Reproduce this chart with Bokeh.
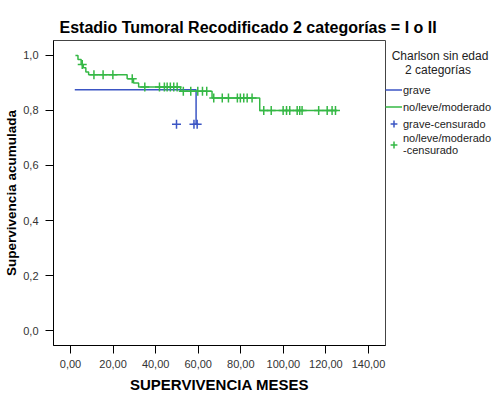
from bokeh.plotting import figure
from bokeh.models import Range1d, FixedTicker, Legend, LegendItem, LinearAxis
from bokeh.embed import file_html
from bokeh.resources import INLINE

# ---- data ----
green_t = [2.3, 3.5, 5.0, 6.0, 7.2, 8.5, 26.6, 29.6, 32.0, 51.7, 66.5, 88.9, 125.3]
green_s = [1.0, 0.985, 0.967, 0.955, 0.94, 0.93, 0.915, 0.90, 0.885, 0.87, 0.845, 0.80, 0.80]

green_cens_t = [5.5, 11.0, 15.3, 19.9, 29.0, 34.9, 41.8, 44.1, 45.4, 46.9, 48.5, 50.1,
                53.0, 56.5, 59.8, 62.0, 64.0,
                67.3, 71.3, 74.2, 78.4, 79.8, 81.4, 83.0, 85.3,
                90.8, 94.3, 99.9, 101.5, 103.0, 106.5, 107.7, 108.8, 116.6, 120.6, 122.9, 124.5]
green_cens_s = [0.967, 0.93, 0.93, 0.93, 0.915, 0.885, 0.885, 0.885, 0.885, 0.885, 0.885, 0.885,
                0.87, 0.87, 0.87, 0.87, 0.87,
                0.845, 0.845, 0.845, 0.845, 0.845, 0.845, 0.845, 0.845,
                0.80, 0.80, 0.80, 0.80, 0.80, 0.80, 0.80, 0.80, 0.80, 0.80, 0.80, 0.80]

blue_t = [2.0, 59.0]
blue_s = [0.875, 0.75]
blue_cens_t = [49.8, 58.0, 59.5]
blue_cens_s = [0.75, 0.75, 0.75]

x_ticks = [0, 20, 40, 60, 80, 100, 120, 140]
x_tick_labels = ["0,00", "20,00", "40,00", "60,00", "80,00", "100,00", "120,00", "140,00"]
y_ticks = [0.0, 0.2, 0.4, 0.6, 0.8, 1.0]
y_tick_labels = ["0,0", "0,2", "0,4", "0,6", "0,8", "1,0"]

title_text = "Estadio Tumoral Recodificado 2 categorías = I o II"
x_label = "SUPERVIVENCIA MESES"
y_label = "Supervivencia acumulada"
legend_title = "\u00a0\u00a0Charlson sin edad\n\u00a0\u00a0\u00a0\u00a0\u00a0\u00a02 categorías"
legend_labels = ["grave", "no/leve/moderado", "grave-censurado", "no/leve/moderado\n-censurado"]

BLUE = "#3b55c4"
GREEN = "#35b845"
FONT = "Liberation Sans"

p = figure(width=498, height=398, frame_width=332, frame_height=305,
           output_backend="svg", toolbar_location=None,
           x_range=Range1d(-8, 148), y_range=Range1d(-0.0545, 1.0545),
           min_border_left=53, min_border_right=113, min_border_top=40, min_border_bottom=53)
p.grid.visible = False
p.background_fill_color = "white"
p.border_fill_color = "white"
p.outline_line_color = "#444444"

xa = p.below[0]
ya = p.left[0]

p.title.text = title_text
p.title.align = "left"
p.title.offset = 6
p.title.text_font = FONT
p.title.text_font_size = "16px"
p.title.text_font_style = "bold"
p.title.text_color = "black"

for ax, ticks, labels, lab in [(xa, x_ticks, x_tick_labels, x_label),
                               (ya, y_ticks, y_tick_labels, y_label)]:
    ax.ticker = FixedTicker(ticks=ticks)
    ax.major_label_overrides = {t: l for t, l in zip(ticks, labels)}
    ax.minor_tick_line_color = None
    ax.major_tick_out = 8
    ax.major_tick_in = 0
    ax.axis_line_color = "black"
    ax.major_tick_line_color = "black"
    ax.major_label_text_font = FONT
    ax.major_label_text_font_size = "11px"
    ax.major_label_text_color = "#333333"
    ax.axis_label = lab
    ax.axis_label_text_font = FONT
    ax.axis_label_text_font_style = "bold"
    ax.axis_label_text_color = "black"

xa.axis_label_text_font_size = "15px"
ya.axis_label_text_font_size = "13.5px"
xa.major_label_standoff = 6
xa.axis_label_standoff = 5
ya.major_label_standoff = 7
ya.axis_label_standoff = 1

# invisible, tick-less axis above the frame: only a spacer between frame and title
spacer = LinearAxis(ticker=FixedTicker(ticks=[]), axis_line_color=None,
                    major_tick_line_color="white", minor_tick_line_color=None,
                    major_tick_out=9, major_tick_in=0, minor_tick_out=0,
                    major_label_standoff=0, axis_label=None)
p.add_layout(spacer, "above")

r_blue = p.step(x=blue_t, y=blue_s, mode="after", line_color=BLUE, line_width=1.5)
r_green = p.step(x=green_t, y=green_s, mode="after", line_color=GREEN, line_width=1.5)
r_bc = p.scatter(x=blue_cens_t, y=blue_cens_s, marker="cross", size=9, line_color=BLUE, line_width=1.5)
r_gc = p.scatter(x=green_cens_t, y=green_cens_s, marker="cross", size=9, line_color=GREEN, line_width=1.5)

legend = Legend(
    items=[LegendItem(label=legend_labels[0], renderers=[r_blue]),
           LegendItem(label=legend_labels[1], renderers=[r_green]),
           LegendItem(label=legend_labels[2], renderers=[r_bc]),
           LegendItem(label=legend_labels[3], renderers=[r_gc])],
    title=legend_title,
    location=(0, 189),
    margin=0, padding=0, spacing=0,
    glyph_width=17, glyph_height=17, label_height=17, label_standoff=1,
    label_text_font=FONT, label_text_font_size="11px", label_text_color="#222222",
    label_text_line_height=1.2,
    title_text_font=FONT, title_text_font_size="12px", title_text_font_style="normal",
    title_text_color="#222222", title_standoff=4, title_text_line_height=1.4,
    border_line_color=None, background_fill_alpha=0,
)
p.add_layout(legend, "right")

open("out.html", "w").write(file_html(p, INLINE))
